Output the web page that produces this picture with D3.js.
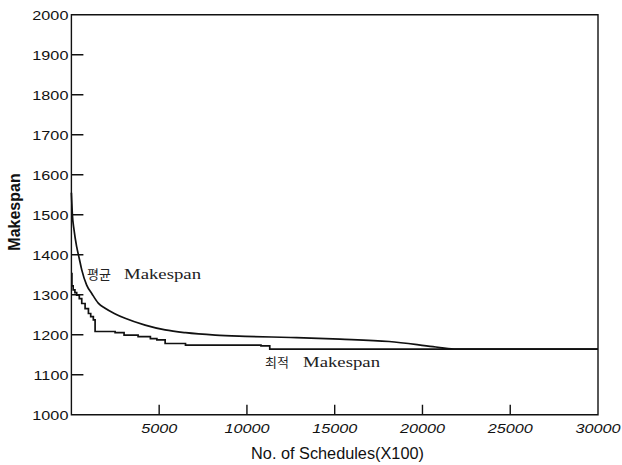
<!DOCTYPE html>
<html><head><meta charset="utf-8">
<script src="https://cdn.jsdelivr.net/npm/d3@7/dist/d3.min.js"></script>
<style>body{margin:0;background:#fff}svg{display:block}</style>
</head><body>
<script>
// ---- data ----
const yTicks = [1000,1100,1200,1300,1400,1500,1600,1700,1800,1900,2000];
const xTicks = [5000,10000,15000,20000,25000,30000];
// average makespan (schedules x100, makespan)
const avgX = [0,50,150,300,450,590,870,1160,1530,1920,2500,3060,4200,5340,6500,8200,9900,12500,15300,18100,20600,21800,30000];
const avgY = [1555,1504,1462,1420,1390,1362,1324,1303,1279,1266,1252,1241,1224,1212,1205,1199,1196,1193,1189,1183,1170,1164,1164];
// best makespan (step)
const bestX = [0,30,100,200,300,450,590,780,970,1100,1250,1350,2490,3000,3800,4500,4870,5340,6500,10800,11300,30000];
const bestY = [1353,1322,1312,1305,1299,1290,1278,1265,1253,1245,1237,1208,1205,1199,1195,1190,1187,1178,1174,1172,1164,1164];
const labels = {avgK:"평균", bestK:"최적", ms:"Makespan", xTitle:"No. of Schedules(X100)", yTitle:"Makespan"};

const W=622,H=465;
const m={l:71.4,t:14.7,r:622-598,b:465-414.7};
const svg=d3.select("body").append("svg").attr("width",W).attr("height",H);
const x=d3.scaleLinear().domain([0,30000]).range([m.l,W-m.r]);
const y=d3.scaleLinear().domain([1000,2000]).range([H-m.b,m.t]);
const ink="#111";

// frame + inward ticks in one path
const yIn=yTicks.filter(d=>d>1000&&d<2000);
const xIn=xTicks.filter(d=>d<30000);
let fd=`M${x(0)},${y(2000)}H${x(30000)}V${y(1000)}H${x(0)}Z`;
yIn.forEach(d=>{fd+=`M${x(0)},${y(d)}h12`;});
xIn.forEach(d=>{fd+=`M${x(d)},${y(1000)}v-10`;});
svg.append("path").attr("d",fd).attr("fill","none").attr("stroke",ink).attr("stroke-width",1.4);

// y labels
svg.append("g").selectAll("text").data(yTicks).join("text")
  .attr("transform",d=>`translate(${x(0)-3},${y(d)+5}) scale(1.2,1)`)
  .attr("text-anchor","end").attr("fill",ink)
  .style("font-family","'Liberation Sans',Arial,sans-serif").style("font-size","13.5px")
  .text(d=>d);

// x labels
svg.append("g").selectAll("text").data(xTicks).join("text")
  .attr("transform",d=>`translate(${x(d)},${y(1000)+18}) scale(1.2,1)`)
  .attr("text-anchor","middle").attr("fill",ink)
  .style("font-family","'Liberation Sans',Arial,sans-serif").style("font-size","13.5px").style("font-style","italic")
  .text(d=>d);

// axis titles
svg.append("text").attr("x",337.5).attr("y",458.5).attr("text-anchor","middle").attr("fill",ink)
  .style("font-family","'Liberation Sans',Arial,sans-serif").style("font-size","16.3px").text(labels.xTitle);
svg.append("text").attr("transform","translate(19.5,212) rotate(-90)").attr("text-anchor","middle").attr("fill",ink)
  .style("font-family","'Liberation Sans',Arial,sans-serif").style("font-size","16px").style("font-weight","bold").text(labels.yTitle);

// lines
const avg=avgX.map((d,i)=>[d,avgY[i]]);
const best=bestX.map((d,i)=>[d,bestY[i]]);
svg.append("path").datum(avg).attr("fill","none").attr("stroke",ink).attr("stroke-width",1.7)
  .attr("d",d3.line().x(d=>x(d[0])).y(d=>y(d[1])).curve(d3.curveMonotoneX));
svg.append("path").datum(best).attr("fill","none").attr("stroke",ink).attr("stroke-width",1.7)
  .attr("d",d3.line().x(d=>x(d[0])).y(d=>y(d[1])).curve(d3.curveStepAfter));

// annotations
function ann(kx,mx,by,k){
  svg.append("text").attr("x",kx).attr("y",by).attr("fill","#222")
    .style("font-family","'Noto Sans CJK KR',sans-serif").style("font-size","13px").text(k);
  svg.append("text").attr("transform",`translate(${mx},${by}) scale(1.25,1)`).attr("fill","#222")
    .style("font-family","'Liberation Serif','Times New Roman',serif").style("font-size","15px").text(labels.ms);
}
ann(87,124,279,labels.avgK);
ann(265,303,367,labels.bestK);
</script>
</body></html>
